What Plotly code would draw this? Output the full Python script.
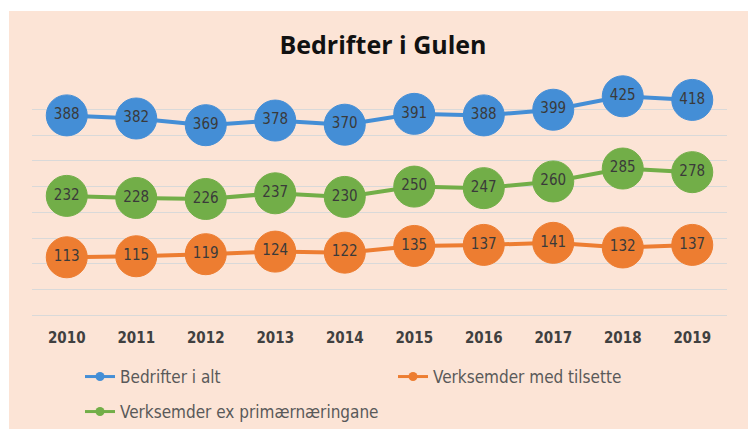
import plotly.graph_objects as go

years = ["2010", "2011", "2012", "2013", "2014", "2015", "2016", "2017", "2018", "2019"]
bedrifter_i_alt = [388, 382, 369, 378, 370, 391, 388, 399, 425, 418]
med_tilsette = [113, 115, 119, 124, 122, 135, 137, 141, 132, 137]
ex_primaer = [232, 228, 226, 237, 230, 250, 247, 260, 285, 278]

names = ["Bedrifter i alt", "Verksemder med tilsette", "Verksemder ex primærnæringane"]
colors = ["#448ED6", "#ED7D31", "#72AE48"]
series = [bedrifter_i_alt, med_tilsette, ex_primaer]
legends = ["legend", "legend", "legend2"]

FONT = "DejaVu Sans Condensed, Open Sans, Arial, sans-serif"
W, H = 748, 429
ML, MR, MT, MB = 32, 21, 83, 113

fig = go.Figure()
for name, col, vals in zip(names, colors, series):
    fig.add_trace(go.Scatter(
        x=years, y=vals, mode="lines+markers+text", name=name,
        text=[str(v) for v in vals], textposition="middle center",
        textfont=dict(family=FONT, size=15, color="#3A3A3A"),
        line=dict(color=col, width=4),
        marker=dict(size=41, color=col, line=dict(color=col, width=1)),
        showlegend=False, cliponaxis=False,
    ))
# legend entries
for name, col, lg in zip(names, colors, legends):
    fig.add_trace(go.Scatter(
        x=[None], y=[None], mode="lines+markers", name=name,
        line=dict(color=col, width=3), marker=dict(size=9, color=col),
        legend=lg, showlegend=True,
    ))

fig.update_layout(
    width=W, height=H,
    margin=dict(l=ML, r=MR, t=MT, b=MB, autoexpand=False),
    paper_bgcolor="#FCE4D6", plot_bgcolor="#FCE4D6",
    title=dict(text="<b>Bedrifter i Gulen</b>", x=(383) / W, xanchor="center",
               y=1 - 45 / H, yanchor="middle", xref="container", yref="container",
               font=dict(family="Open Sans, Arial, sans-serif", size=25, color="#111111")),
    xaxis=dict(range=[-0.5, 9.5], showgrid=False, zeroline=False, showline=False,
               ticks="outside", ticklen=8, tickcolor="rgba(0,0,0,0)",
               tickfont=dict(family=FONT, size=15, color="#404040", weight="bold")),
    yaxis=dict(range=[-0.8, 450.8], dtick=50, showticklabels=False, gridcolor="#D9D9D9",
               gridwidth=1, zeroline=True, zerolinecolor="#D9D9D9", zerolinewidth=1,
               showline=False),
    legend=dict(orientation="h", xref="container", yref="container",
                x=80 / W, y=1 - 377 / H, xanchor="left", yanchor="middle",
                entrywidth=268, entrywidthmode="pixels", bgcolor="rgba(0,0,0,0)",
                font=dict(family=FONT, size=17, color="#595959")),
    legend2=dict(orientation="h", xref="container", yref="container",
                 x=80 / W, y=1 - 412 / H, xanchor="left", yanchor="middle",
                 bgcolor="rgba(0,0,0,0)",
                 font=dict(family=FONT, size=17, color="#595959")),
    shapes=[
        dict(type="rect", xref="paper", yref="paper", layer="below",
             x0=-ML / (W - ML - MR) - 0.01, x1=(-ML + 9) / (W - ML - MR),
             y0=-MB / (H - MT - MB) - 0.01, y1=1 + MT / (H - MT - MB) + 0.01,
             fillcolor="white", line=dict(width=0)),
        dict(type="rect", xref="paper", yref="paper", layer="below",
             x0=-ML / (W - ML - MR) - 0.01, x1=1 + MR / (W - ML - MR) + 0.01,
             y0=1 + (MT - 11) / (H - MT - MB), y1=1 + MT / (H - MT - MB) + 0.01,
             fillcolor="white", line=dict(width=0)),
    ],
)

fig.write_html("out.html", config={"displayModeBar": False},
               post_script="document.body.style.margin='0';")
